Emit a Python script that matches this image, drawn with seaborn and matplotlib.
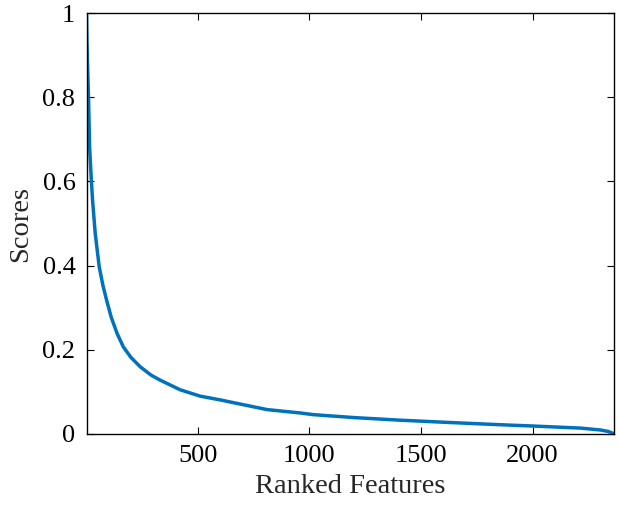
import matplotlib
matplotlib.use("Agg")
import matplotlib.pyplot as plt
import seaborn as sns
import pandas as pd

rank = [1, 3, 6, 10, 15, 22, 28, 40, 58, 75, 91, 112, 138, 166, 200, 241, 290,
        331, 421, 510, 600, 700, 810, 958, 1017, 1200, 1400, 1600, 1856, 2000,
        2216, 2305, 2340, 2363]
score = [1.0, 0.93, 0.87, 0.80, 0.68, 0.61, 0.556, 0.477, 0.397, 0.352, 0.318, 0.277,
         0.239, 0.207, 0.182, 0.16, 0.14, 0.128, 0.105, 0.09, 0.081, 0.07, 0.058,
         0.05, 0.046, 0.039, 0.033, 0.028, 0.022, 0.019, 0.014, 0.0095, 0.006, 0.001]
xticks = [500, 1000, 1500, 2000]
yticks = [0, 0.2, 0.4, 0.6, 0.8, 1]
yticklabels = ["0", "0.2", "0.4", "0.6", "0.8", "1"]

sns.set_style("ticks")
plt.rcParams["font.family"] = ["Liberation Serif", "DejaVu Serif"]

df = pd.DataFrame({"Ranked Features": rank, "Scores": score})

fig = plt.figure(figsize=(6.18, 5.12), dpi=100)
ax = fig.add_axes([86.5 / 618, 78 / 512, (613.5 - 86.5) / 618, (434 - 13) / 512])
sns.lineplot(data=df, x="Ranked Features", y="Scores", ax=ax, color="#0072BD",
             linewidth=2.5, estimator=None, sort=False)

ax.set_xlim(1, 2363)
ax.set_ylim(0, 1)
ax.set_xticks(xticks)
ax.set_xticklabels([str(v) for v in xticks])
ax.set_yticks(yticks)
ax.set_yticklabels(yticklabels)
ax.tick_params(direction="in", length=5, width=0.8, top=True, right=True,
               labelsize=19, colors="black", pad=8)
for s in ax.spines.values():
    s.set_visible(True)
    s.set_linewidth(1.0)
    s.set_color("black")
ax.set_xlabel("Ranked Features", fontsize=20.5, labelpad=5)
ax.set_ylabel("Scores", fontsize=20.5, labelpad=7)

fig.savefig("out.png", dpi=100)
